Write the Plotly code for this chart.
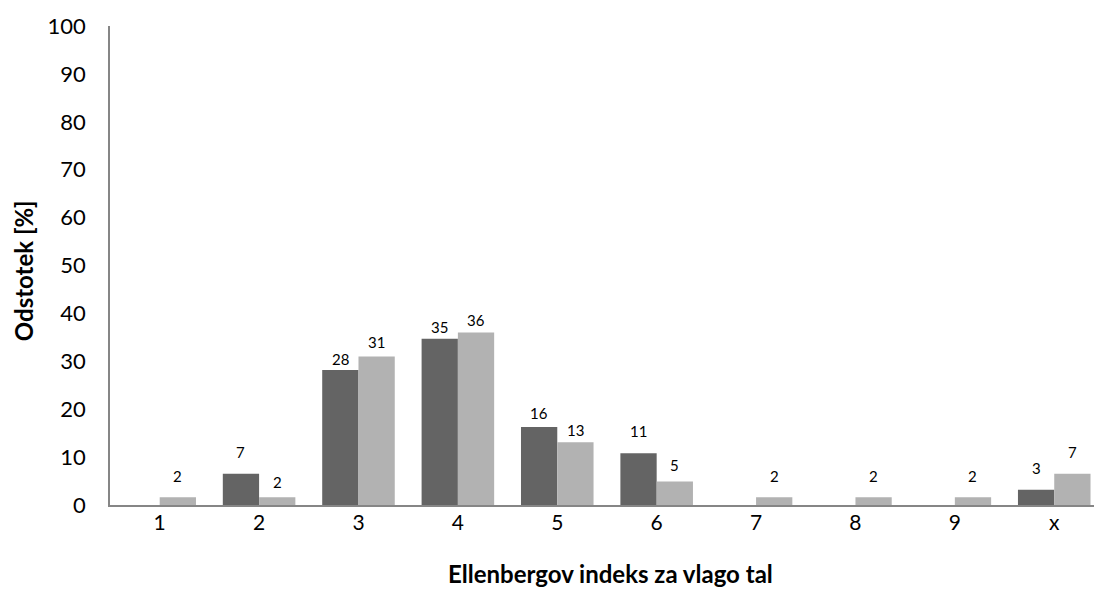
import math
import plotly.graph_objects as go

# Ellenberg moisture index categories and percentage shares of the two groups
categories = ["1", "2", "3", "4", "5", "6", "7", "8", "9", "x"]
series_dark = [None, 6.5, 28.2, 34.7, 16.3, 10.8, None, None, None, 3.2]
series_light = [1.6, 1.6, 31.0, 36.0, 13.1, 4.9, 1.6, 1.6, 1.6, 6.5]
y_ticks = [0, 10, 20, 30, 40, 50, 60, 70, 80, 90, 100]

# vertical lift (px) of each value label above its bar
lift_dark = [0, 22, 11, 12, 14, 22, 0, 0, 0, 22]
lift_light = [21, 15, 15, 13, 12, 17, 21, 21, 21, 22]

DARK = "#646464"
LIGHT = "#b2b2b2"
AXIS = "#868686"
FONT = "Lato"


def label(v):
    # round half up, as spreadsheet data labels do
    return str(int(math.floor(v + 0.5)))


fig = go.Figure()
fig.add_bar(x=categories, y=series_dark, marker_color=DARK, marker_line_width=0,
            name="A", cliponaxis=True)
fig.add_bar(x=categories, y=series_light, marker_color=LIGHT, marker_line_width=0,
            name="B", cliponaxis=True)

bargap = 0.27
half = (1 - bargap) / 4  # centre offset of each bar within a group

annotations = []
for i, (v, s) in enumerate(zip(series_dark, lift_dark)):
    if v is not None:
        annotations.append(dict(x=i - half, y=v, xref="x", yref="y", text=label(v),
                                showarrow=False, yanchor="middle", yshift=s,
                                font=dict(family=FONT, size=15, color="#000")))
for i, (v, s) in enumerate(zip(series_light, lift_light)):
    if v is not None:
        annotations.append(dict(x=i + half, y=v, xref="x", yref="y", text=label(v),
                                showarrow=False, yanchor="middle", yshift=s,
                                font=dict(family=FONT, size=15, color="#000")))

# axis titles
annotations.append(dict(x=0.509, y=-0.144, xref="paper", yref="paper",
                        text="<b>Ellenbergov indeks za vlago tal</b>", showarrow=False,
                        xanchor="center", yanchor="middle",
                        font=dict(family=FONT, size=24, color="#000")))
annotations.append(dict(x=-0.088, y=0.489, xref="paper", yref="paper",
                        text="<b>Odstotek [%]</b>", showarrow=False, textangle=-90,
                        xanchor="center", yanchor="middle",
                        font=dict(family=FONT, size=24, color="#000")))

fig.update_layout(
    width=1094, height=589,
    margin=dict(l=110, r=0, t=26, b=84),
    paper_bgcolor="white", plot_bgcolor="white",
    barmode="group", bargap=bargap, bargroupgap=0,
    showlegend=False,
    font=dict(family=FONT, size=20, color="#000"),
    annotations=annotations,
    xaxis=dict(
        type="category", range=[-0.5, 9.4],
        showline=True, linecolor=AXIS, linewidth=1.5,
        showgrid=False, ticks="", tickfont=dict(size=21),
        ticklabelstandoff=-2,
    ),
    yaxis=dict(
        range=[0, 100], tickvals=y_ticks,
        showline=True, linecolor=AXIS, linewidth=1.5,
        showgrid=False, ticks="", zeroline=False,
        tickfont=dict(size=22), ticklabelstandoff=18,
    ),
)

fig.write_html("out.html")
